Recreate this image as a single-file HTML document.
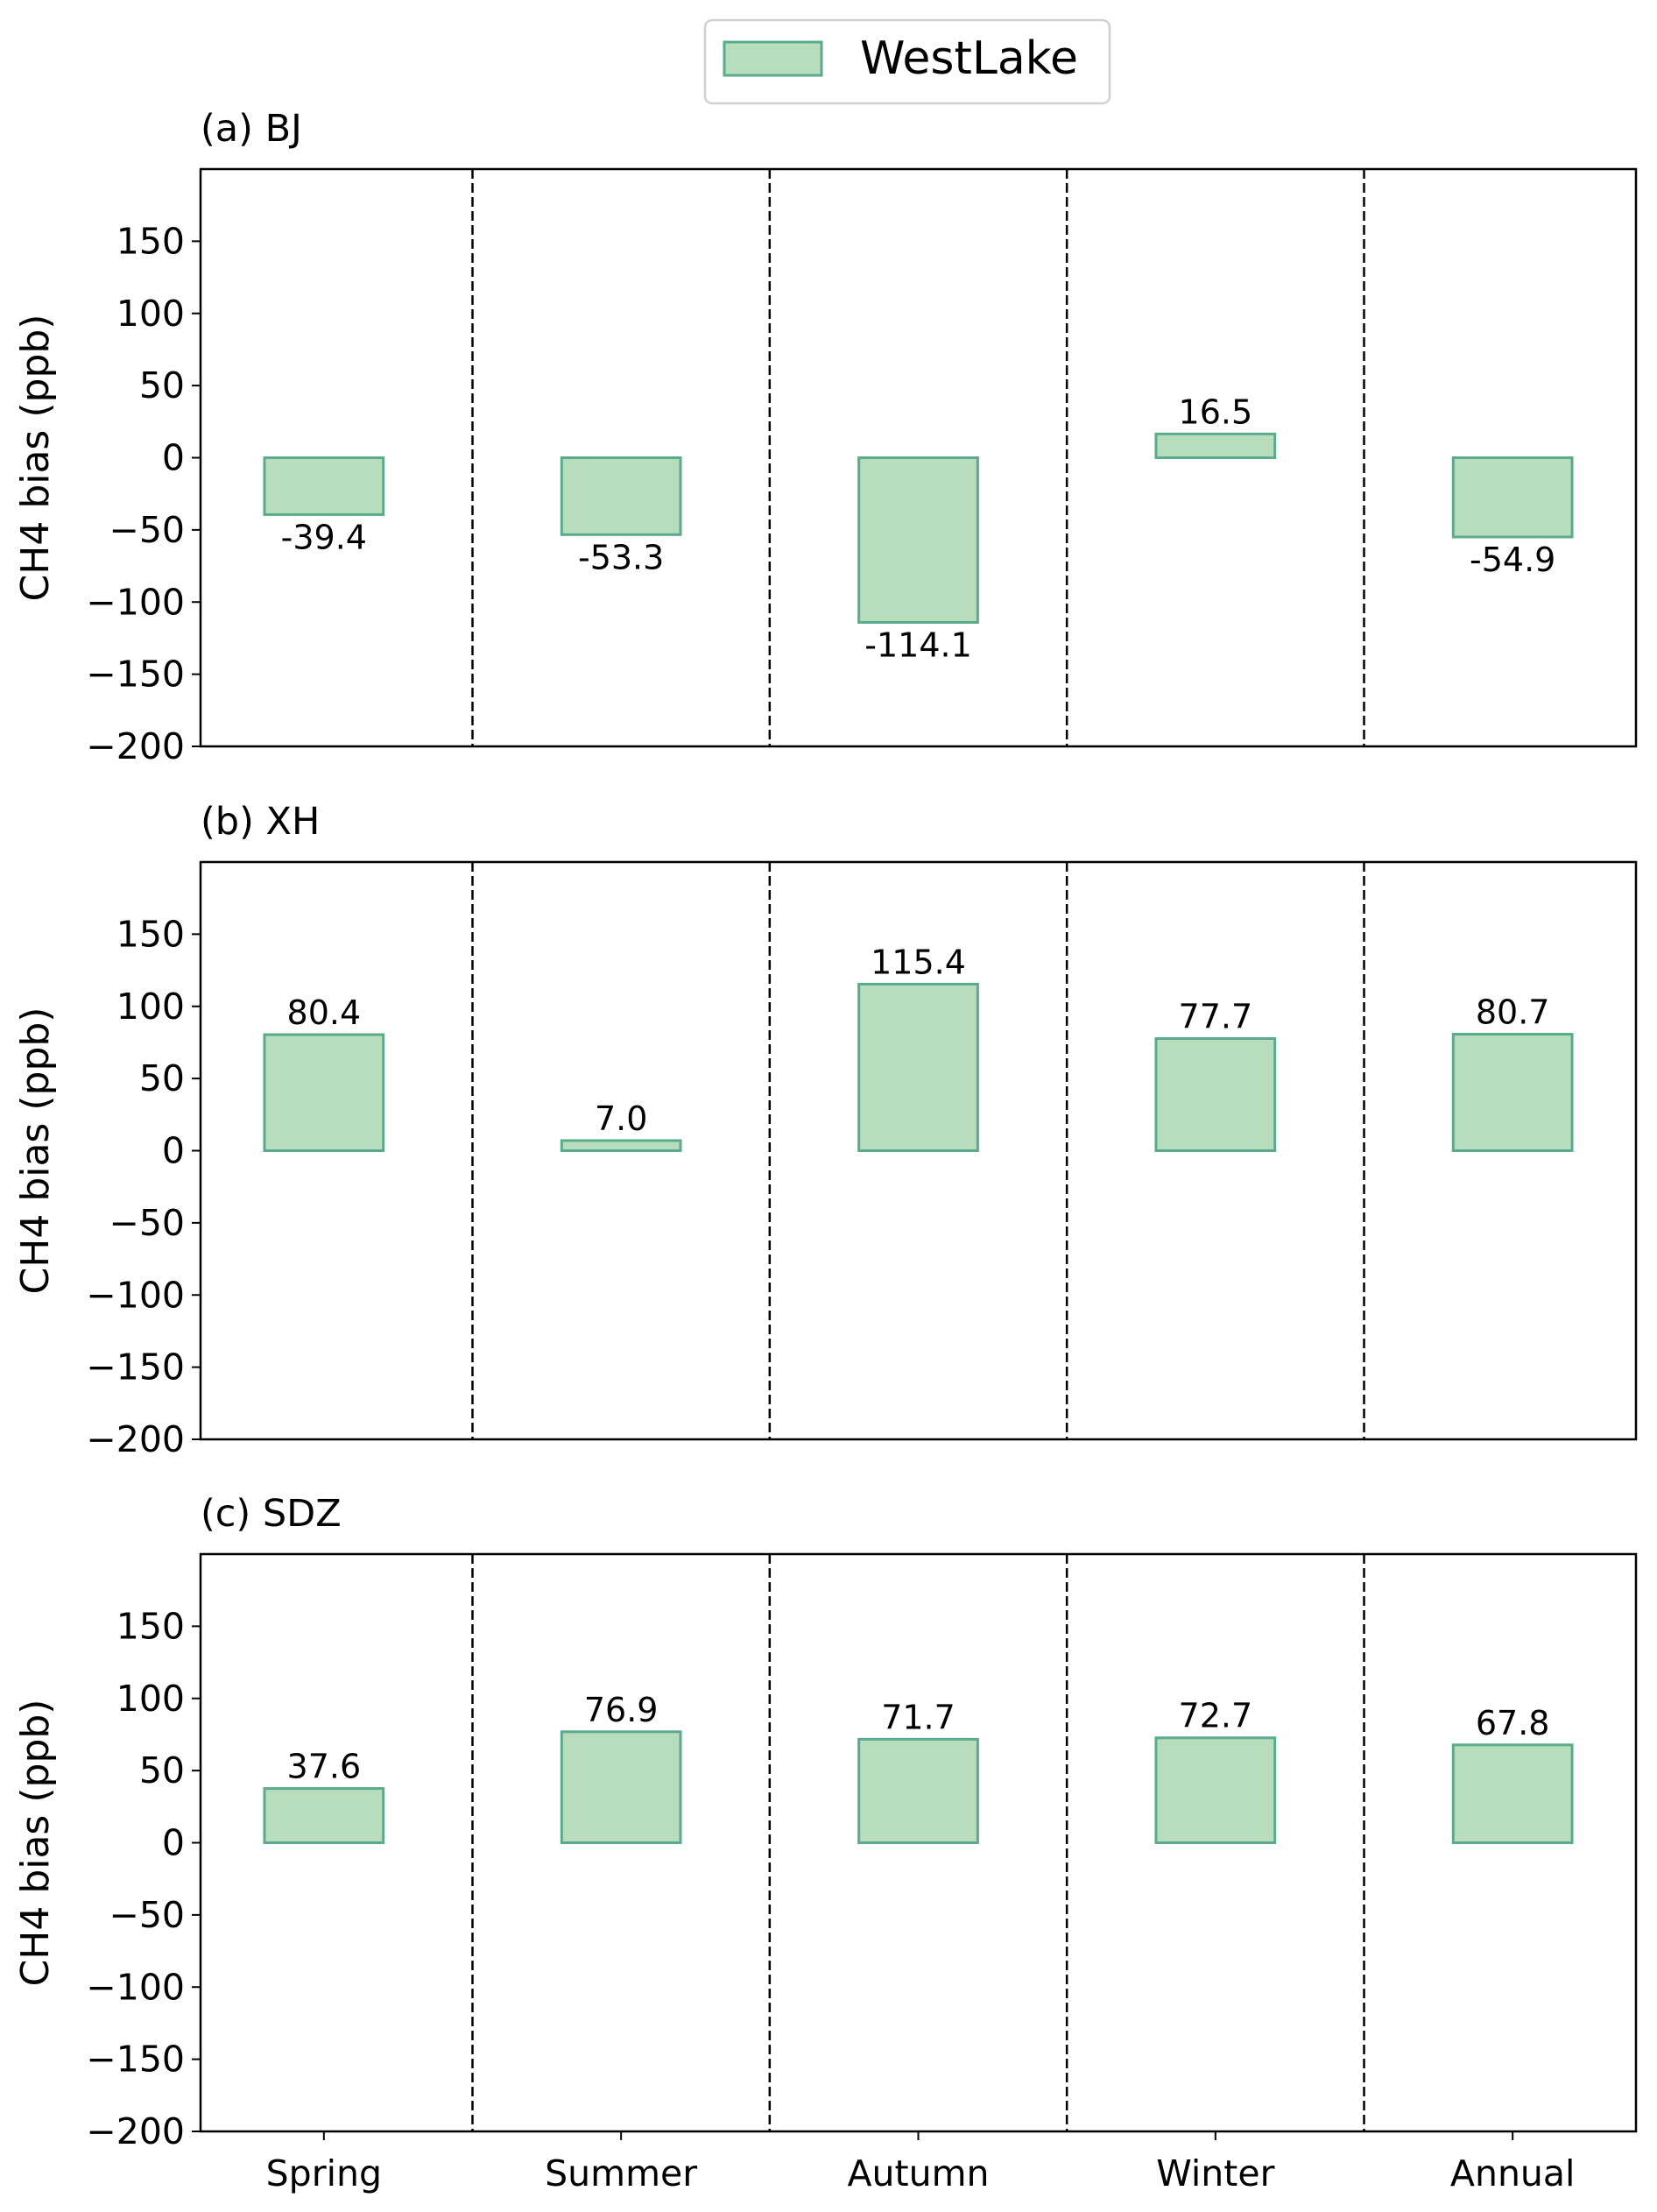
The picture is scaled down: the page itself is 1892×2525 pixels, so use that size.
<!DOCTYPE html>
<html><head><meta charset="utf-8"><style>
html,body{margin:0;padding:0;background:#fff}
svg{display:block;font-family:"DejaVu Sans","Liberation Sans",sans-serif}
</style></head><body>
<svg id="chart" width="1892" height="2525" viewBox="0 0 1892 2525">
<g>
<rect x="805" y="23" width="462" height="95" rx="8" fill="#fff" stroke="#d0d0d0" stroke-width="2.5"/>
<rect x="827" y="48" width="111" height="38" fill="#b8ddbc" stroke="#5aab8c" stroke-width="3"/>
<text x="982" y="84" font-size="52">WestLake</text>
</g>
</svg>
<script>
const categories = ["Spring","Summer","Autumn","Winter","Annual"];
const panelTitles = ["(a) BJ","(b) XH","(c) SDZ"];
const valuesBJ = [-39.4,-53.3,-114.1,16.5,-54.9];
const valuesXH = [80.4,7.0,115.4,77.7,80.7];
const valuesSDZ = [37.6,76.9,71.7,72.7,67.8];
const yTicks = [-200,-150,-100,-50,0,50,100,150];
const series = [valuesBJ, valuesXH, valuesSDZ];

const NS="http://www.w3.org/2000/svg";
const svg=document.getElementById('chart');
const L=229,R=1868,H=659;
const tops=[193,984,1774];
const xmin=-0.415,xmax=4.415,ymin=-200,ymax=200;
function mk(tag,attrs,parent){const e=document.createElementNS(NS,tag);for(const k in attrs)e.setAttribute(k,attrs[k]);(parent||svg).appendChild(e);return e;}
function xs(v){return L+(v-xmin)/(xmax-xmin)*(R-L);}

series.forEach((vals,p)=>{
  const T=tops[p],B=T+H;
  const ys=v=>B-(v-ymin)/(ymax-ymin)*H;
  const g=mk('g',{});
  
  
  const tt=mk('text',{x:L,y:T-32,'font-size':43},g);
  tt.textContent=panelTitles[p];
  
  
  for(let i=0;i<categories.length-1;i++){
    const d=mk('line',{x1:xs(i+0.5),x2:xs(i+0.5),y1:T,y2:B,stroke:'#000','stroke-width':2.5,'stroke-dasharray':'11,5'},g);
    
    
  }
  vals.forEach((v,i)=>{
    const x0=xs(i-0.2),x1=xs(i+0.2);
    const y0=ys(Math.max(v,0)),y1=ys(Math.min(v,0));
    const b=mk('rect',{x:x0,y:y0,width:x1-x0,height:Math.max(y1-y0,0.5),fill:'#b8ddbc',stroke:'#5aab8c','stroke-width':3},g);
    
    
    const t=mk('text',{x:xs(i),y:v>=0?ys(v)-12:ys(v)+39,'font-size':38,'text-anchor':'middle'},g);
    t.textContent=v.toFixed(1);
    
    
  });
  yTicks.forEach(v=>{
    const y=ys(v);
    const tl=mk('line',{x1:L-10,x2:L,y1:y,y2:y,stroke:'#000','stroke-width':2},g);
    
    
    const t=mk('text',{x:L-18,y:y+14,'font-size':41,'text-anchor':'end'},g);
    t.textContent=v<0?'\u2212'+Math.abs(v):String(v);
    
    
  });
  if(p===2){
    categories.forEach((c,i)=>{
      const tl=mk('line',{x1:xs(i),x2:xs(i),y1:B,y2:B+10,stroke:'#000','stroke-width':2},g);
      
      
      const t=mk('text',{x:xs(i),y:B+62,'font-size':41,'text-anchor':'middle'},g);
      t.textContent=c;
      
      
    });
  }
  const fr=mk('rect',{x:L,y:T,width:R-L,height:H,fill:'none',stroke:'#000','stroke-width':2.5},g);
  
  
  const yl=mk('text',{x:0,y:0,'font-size':44,'text-anchor':'middle',transform:'translate(55,'+(T+H/2)+') rotate(-90)'},g);
  yl.textContent='CH4 bias (ppb)';
  
  
});
</script>
</body></html>
